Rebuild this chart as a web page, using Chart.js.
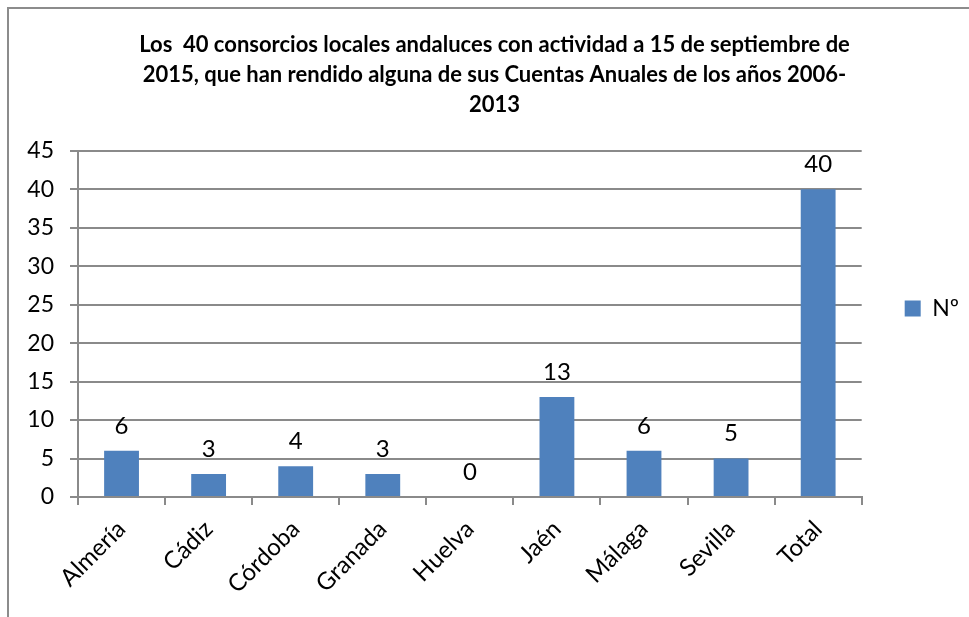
<!DOCTYPE html>
<html>
<head>
<meta charset="utf-8">
<script src="https://cdn.jsdelivr.net/npm/chart.js@4"></script>
<style>
  body { margin: 0; background: #fff; }
  #marco { position: relative; width: 969px; height: 617px; overflow: hidden; }
  #borde { position: absolute; left: 7px; top: 7px; width: 980px; height: 640px;
           border-left: 2px solid #8c8c8c; border-top: 2px solid #8c8c8c; }
  #grafico { position: absolute; left: 0; top: 0; }
</style>
</head>
<body>
<div id="marco">
  <div id="borde"></div>
  <canvas id="grafico" width="969" height="617"></canvas>
</div>
<script>
// Datos
const categorias = ['Almería', 'Cádiz', 'Córdoba', 'Granada', 'Huelva', 'Jaén', 'Málaga', 'Sevilla', 'Total'];
const valores = [6, 3, 4, 3, 0, 13, 6, 5, 40];
const nombreSerie = 'Nº';
const tituloLineas = [
    'Los  40 consorcios locales andaluces con actividad a 15 de septiembre de',
    '2015, que han rendido alguna de sus Cuentas Anuales de los años 2006-',
    '2013'
];

const fuente = 'Lato, "Open Sans", sans-serif';
const gris = '#8a8a8a';

// Etiquetas de valor encima de cada barra
const etiquetasValor = {
    id: 'etiquetasValor',
    afterDatasetsDraw(chart) {
        const ctx = chart.ctx;
        const meta = chart.getDatasetMeta(0);
        ctx.save();
        ctx.font = '24px ' + fuente;
        ctx.fillStyle = '#000';
        ctx.textAlign = 'center';
        ctx.textBaseline = 'bottom';
        meta.data.forEach((barra, i) => {
            ctx.fillText(String(valores[i]), barra.x, barra.y - 13);
        });
        ctx.restore();
    }
};

new Chart(document.getElementById('grafico').getContext('2d'), {
    type: 'bar',
    data: {
        labels: categorias,
        datasets: [{
            label: nombreSerie,
            data: valores,
            backgroundColor: '#4f81bd',
            borderWidth: 0,
            categoryPercentage: 1,
            barPercentage: 0.4
        }]
    },
    options: {
        responsive: false,
        animation: false,
        layout: { padding: { left: 20, right: 0, top: 0, bottom: 0 } },
        plugins: {
            title: {
                display: true,
                text: tituloLineas,
                color: '#000',
                font: { family: fuente, size: 22, weight: 'bold', lineHeight: 1.36 },
                padding: { top: 30, bottom: 31 }
            },
            legend: {
                position: 'right',
                labels: {
                    boxWidth: 16,
                    boxHeight: 16,
                    padding: 43,
                    color: '#000',
                    font: { family: fuente, size: 23 }
                }
            },
            tooltip: { enabled: false }
        },
        scales: {
            x: {
                afterFit: (s) => { s.height = 120; },
                grid: { drawOnChartArea: false, color: gris, lineWidth: 2, tickLength: 8 },
                border: { color: gris, width: 2 },
                ticks: {
                    color: '#000',
                    font: { family: fuente, size: 24 },
                    minRotation: 45,
                    maxRotation: 45,
                    padding: 10
                }
            },
            y: {
                min: 0,
                max: 45,
                afterFit: (s) => { s.width = 58; },
                grid: { color: gris, lineWidth: 2, tickLength: 8 },
                border: { color: gris, width: 2 },
                ticks: {
                    stepSize: 5,
                    color: '#000',
                    font: { family: fuente, size: 23 },
                    padding: 16
                }
            }
        }
    },
    plugins: [etiquetasValor]
});
</script>
</body>
</html>
